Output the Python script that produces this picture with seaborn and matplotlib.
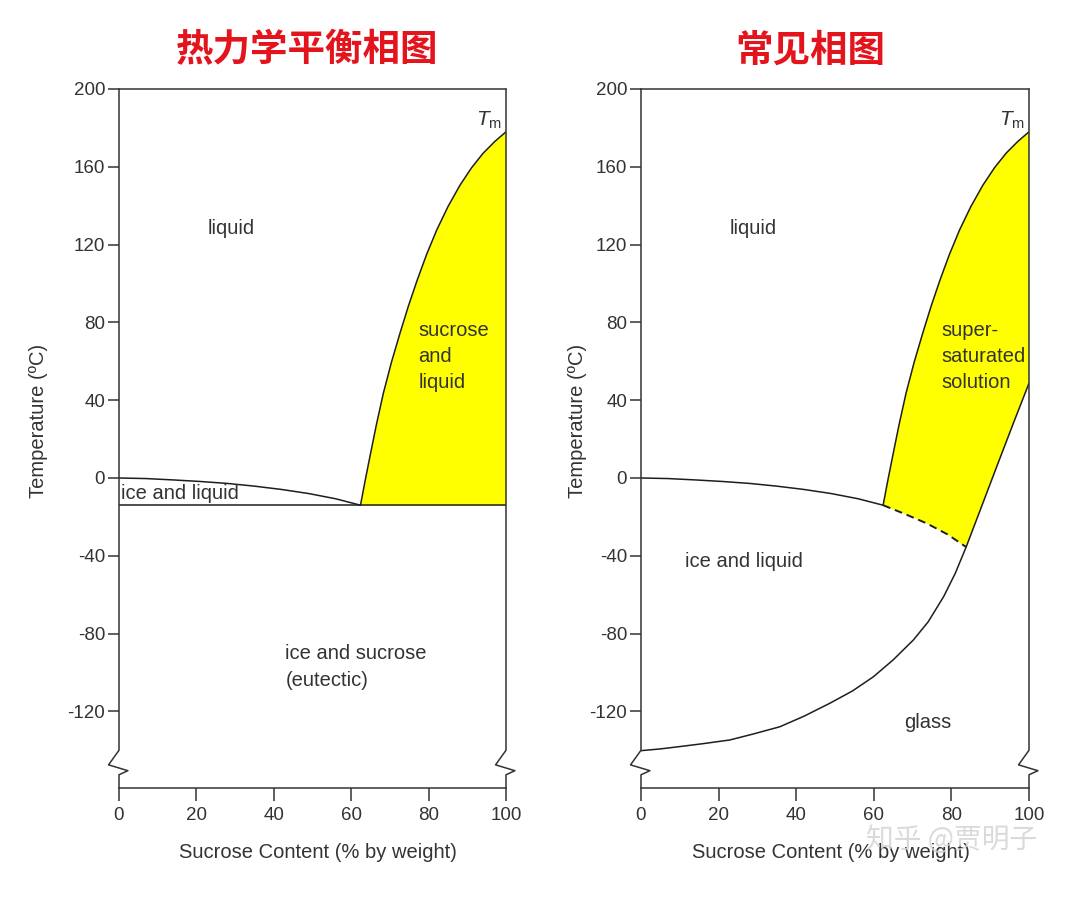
import numpy as np
import pandas as pd
import matplotlib
matplotlib.use('Agg')
import matplotlib.pyplot as plt
import matplotlib.transforms as mtransforms
import seaborn as sns

# values (sucrose % by weight, temperature in C)
ice_x = [0, 7, 14, 21, 28, 35, 42, 49, 56, 62.4]
ice_y = [0, -0.3, -1.0, -1.8, -2.8, -4.2, -5.9, -8.0, -10.7, -14]
eutectic_t = -14
sol_x = [62.4, 63.6, 64.9, 66.5, 68.3, 70.4, 72.6, 74.8, 77.1, 79.5, 82.1, 85.0, 88.1, 91.1, 94.1, 97.1, 100]
sol_y = [-14, -1.4, 11.6, 27.3, 43.5, 59.5, 74.4, 88.5, 102, 115, 127.5, 139.5, 150.5, 159.5, 167, 173, 178]
dash_x = [62.4, 68, 73.6, 79, 83.8]
dash_y = [-14, -18.5, -23.3, -29, -35.5]
tg_x = [0, 5, 10, 16, 22.9, 29, 35.8, 42, 48.7, 54.5, 59.9, 65, 70.2, 74, 78, 81, 83.8, 88, 92, 96, 100]
tg_y = [-140.2, -139.3, -138.1, -136.6, -134.7, -131.6, -127.9, -122.5, -115.8, -109.5, -102.2,
        -93.5, -83.3, -74, -61, -49, -35.5, -13.5, 7.5, 28.3, 48.7]

titles = ['热力学平衡相图', '常见相图']
y_ticks = [-120, -80, -40, 0, 40, 80, 120, 160, 200]
x_ticks = [0, 20, 40, 60, 80, 100]

sns.set_style('white')
plt.rcParams['font.family'] = ['Liberation Sans', 'DejaVu Sans']
plt.rcParams['axes.unicode_minus'] = False
plt.rcParams['mathtext.fontset'] = 'custom'
plt.rcParams['mathtext.rm'] = 'Liberation Sans'
plt.rcParams['mathtext.it'] = 'Liberation Sans:italic'

ink = '#333333'
line_c = '#1e1e1e'
yellow = '#ffff00'

fig = plt.figure(figsize=(10.8, 9.08), dpi=100)
ax1 = fig.add_axes([119 / 1080, 1 - 788 / 908, 387 / 1080, 699 / 908])
ax2 = fig.add_axes([641 / 1080, 1 - 788 / 908, 388 / 1080, 699 / 908])

for ax in (ax1, ax2):
    ax.set_xticks(x_ticks)
    ax.set_yticks(y_ticks)
    ax.tick_params(axis='y', direction='out', length=8, width=1.1, pad=2,
                   colors=ink, labelsize=13.5, left=True)
    ax.tick_params(axis='x', direction='out', length=9, width=1.1, pad=5,
                   colors=ink, labelsize=13.5, bottom=True)
    for side in ('top', 'bottom'):
        ax.spines[side].set_color(ink)
        ax.spines[side].set_linewidth(1.1)
    ax.spines['left'].set_visible(False)
    ax.spines['right'].set_visible(False)
    # vertical axis lines with the break mark near the bottom
    trans = mtransforms.blended_transform_factory(ax.transAxes, ax.transData)
    for x0 in (0, 1):
        ax.plot([x0, x0, x0 - 0.027, x0 + 0.023, x0, x0],
                [200, -140, -147.5, -150.5, -152.6, -159.4],
                transform=trans, color=ink, lw=1.1, clip_on=False, zorder=5)
    ax.set_xlabel('Sucrose Content (% by weight)', fontsize=14.5, color=ink)
    ax.set_ylabel('Temperature (ºC)', fontsize=14.5, color=ink)
    ax.text(99, 184, r'$T_{\mathrm{m}}$', ha='right', va='center', fontsize=15, color=ink)

ax1.xaxis.set_label_coords(0.515, -0.079)
ax2.xaxis.set_label_coords(0.49, -0.079)
ax1.yaxis.set_label_coords(-0.183, 0.525)
ax2.yaxis.set_label_coords(-0.139, 0.525)

ice = pd.DataFrame({'x': ice_x, 'y': ice_y})
sol = pd.DataFrame({'x': sol_x, 'y': sol_y})
dash = pd.DataFrame({'x': dash_x, 'y': dash_y})
tg = pd.DataFrame({'x': tg_x, 'y': tg_y})

# left: thermodynamic equilibrium diagram
ax1.fill_betweenx(sol_y, sol_x, 100, color=yellow, lw=0, zorder=1)
sns.lineplot(data=ice, x='x', y='y', ax=ax1, color=line_c, lw=1.1, sort=False, estimator=None)
sns.lineplot(data=sol, x='x', y='y', ax=ax1, color=line_c, lw=1.1, sort=False, estimator=None)
ax1.axhline(eutectic_t, color=line_c, lw=1.1)

ax1.text(29, 128.5, 'liquid', ha='center', va='center', fontsize=14.5, color=ink)
ax1.text(77.3, 62.5, 'sucrose\nand\nliquid', ha='left', va='center', fontsize=14.5,
         color=ink, linespacing=1.45)
ax1.text(0.6, -8, 'ice and liquid', ha='left', va='center', fontsize=14.5, color=ink)
ax1.text(43, -97, 'ice and sucrose\n(eutectic)', ha='left', va='center', fontsize=14.5,
         color=ink, linespacing=1.55)

# right: common (state) diagram
upper = tg[tg['x'] >= dash_x[-1]]
poly_x = np.concatenate([sol_x, upper['x'].to_numpy()[::-1], dash_x[::-1]])
poly_y = np.concatenate([sol_y, upper['y'].to_numpy()[::-1], dash_y[::-1]])
ax2.fill(poly_x, poly_y, color=yellow, lw=0, zorder=1)
sns.lineplot(data=ice, x='x', y='y', ax=ax2, color=line_c, lw=1.1, sort=False, estimator=None)
sns.lineplot(data=sol, x='x', y='y', ax=ax2, color=line_c, lw=1.1, sort=False, estimator=None)
sns.lineplot(data=dash, x='x', y='y', ax=ax2, color=line_c, lw=1.4, sort=False,
             estimator=None, linestyle=(0, (4, 2.5)))
sns.lineplot(data=tg, x='x', y='y', ax=ax2, color=line_c, lw=1.1, sort=False, estimator=None)

ax2.text(29, 128.5, 'liquid', ha='center', va='center', fontsize=14.5, color=ink)
ax2.text(77.3, 62.5, 'super-\nsaturated\nsolution', ha='left', va='center', fontsize=14.5,
         color=ink, linespacing=1.45)
ax2.text(11.3, -43, 'ice and liquid', ha='left', va='center', fontsize=14.5, color=ink)
ax2.text(74, -125.5, 'glass', ha='center', va='center', fontsize=14.5, color=ink)

for ax in (ax1, ax2):
    ax.set_xlim(0, 100)
    ax.set_ylim(-159.4, 200)

cjk = ['Noto Sans CJK SC', 'DejaVu Sans']
fig.text(307 / 1080, 1 - 50 / 908, titles[0], ha='center', va='center', fontsize=27,
         fontweight='bold', color='#e3141c', family=cjk)
fig.text(810 / 1080, 1 - 50 / 908, titles[1], ha='center', va='center', fontsize=27,
         fontweight='bold', color='#e3141c', family=cjk)
fig.text(952 / 1080, 1 - 840 / 908, '知乎 @贾明子', ha='center', va='center', fontsize=20,
         color='#d4d4d4', alpha=0.85, family=cjk, zorder=10)

fig.savefig('out.png', dpi=100, facecolor='white')
